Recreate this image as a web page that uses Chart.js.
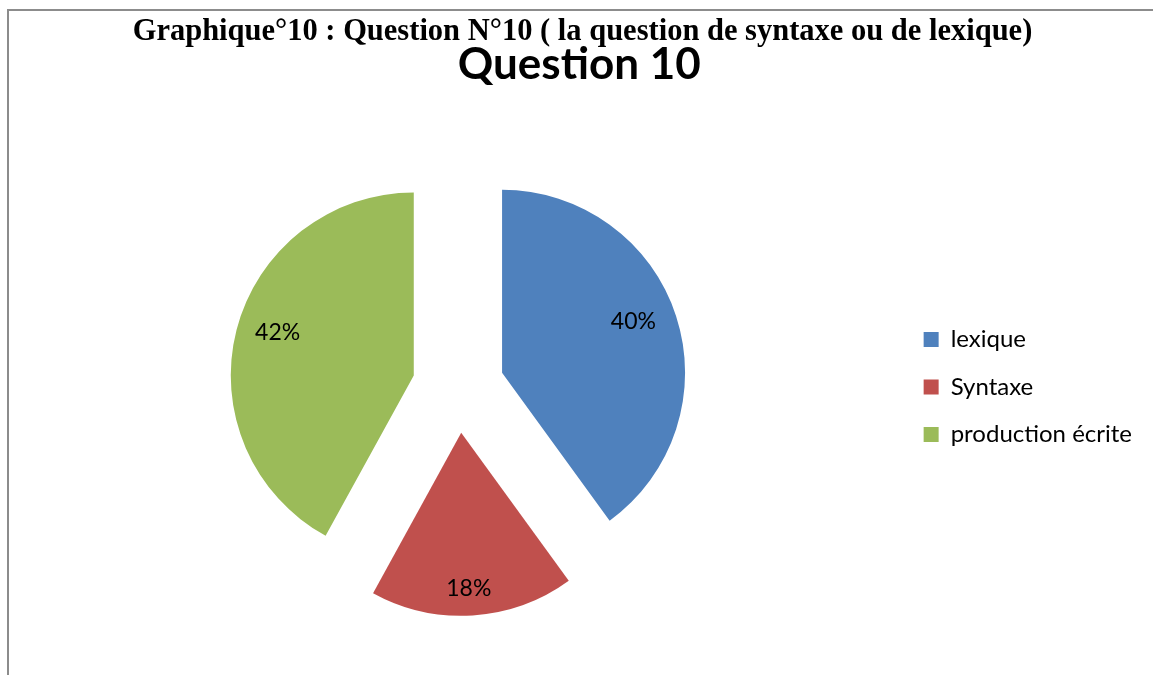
<!DOCTYPE html>
<html>
<head>
<meta charset="utf-8">
<script src="https://cdn.jsdelivr.net/npm/chart.js@4.4.1/dist/chart.umd.min.js"></script>
<style>
html, body { margin:0; padding:0; background:#fff; overflow:hidden; }
#wrap { position:relative; width:1153px; height:675px; }
#frame {
  position:absolute; left:7px; top:9px; right:-10px; bottom:-10px;
  border-top:2px solid #8c8c8c; border-left:2px solid #8c8c8c;
}
#caption {
  position:absolute; left:0; top:15px; width:1165px;
  text-align:center; font-family:"Liberation Serif", "Times New Roman", serif;
  font-weight:bold; font-size:30.5px; line-height:30px; color:#000;
  white-space:nowrap;
}
canvas { position:absolute; left:0; top:0; }
</style>
</head>
<body>
<div id="wrap">
<div id="frame"></div>
<canvas id="questionPie" width="1153" height="675"></canvas>
<div id="caption">Graphique°10 : Question N°10 ( la question de syntaxe ou de lexique)</div>
</div>
<script>
// data
const categories = ["lexique", "Syntaxe", "production écrite"];
const percentages = [40, 18, 42];
const sliceColours = ["#4F81BD", "#C0504D", "#9BBB59"];

// how far each slice is pulled out, and where its % sits
const EXPLODE = 46;
const labelFrac = [0.77, 0.85, 0.78];   // fraction of radius
const labelTurn = [-3.3, 0.8, 3.1];     // degrees off the bisector

function midOf(arc){
  return (arc.startAngle + arc.endAngle) / 2;
}

const explodePlugin = {
  id: "explode",
  beforeDatasetDraw(chart, args){
    const ctx = chart.ctx;
    args.meta.data.forEach(arc => {
      const mid = midOf(arc);
      ctx.save();
      ctx.translate(Math.cos(mid) * EXPLODE, Math.sin(mid) * EXPLODE);
      arc.draw(ctx);
      ctx.restore();
    });
    return false;
  },
  afterDatasetsDraw(chart){
    const ctx = chart.ctx;
    const arcs = chart.getDatasetMeta(0).data;
    ctx.save();
    ctx.font = "23px Lato";
    ctx.fillStyle = "#000";
    ctx.textAlign = "center";
    ctx.textBaseline = "middle";
    arcs.forEach((arc, i) => {
      const mid = midOf(arc);
      const ox = arc.x + Math.cos(mid) * EXPLODE;
      const oy = arc.y + Math.sin(mid) * EXPLODE;
      const a = mid + labelTurn[i] * Math.PI / 180;
      const r = arc.outerRadius * labelFrac[i];
      ctx.fillText(percentages[i] + "%", ox + Math.cos(a) * r, oy + Math.sin(a) * r);
    });
    ctx.restore();
  }
};

new Chart(document.getElementById("questionPie"), {
  type: "pie",
  data: {
    labels: categories,
    datasets: [{
      data: percentages,
      backgroundColor: sliceColours,
      borderWidth: 0,
      radius: 183
    }]
  },
  options: {
    responsive: false,
    animation: false,
    layout: {
      padding: { left: 16.5, right: 11, top: 0, bottom: 10 }
    },
    plugins: {
      title: {
        display: true,
        text: "Question 10",
        color: "#000",
        font: { family: "Lato", size: 44, weight: "bold" },
        padding: { top: 38, bottom: 18 }
      },
      legend: {
        position: "right",
        fullSize: false,
        labels: {
          color: "#000",
          font: { family: "Lato", size: 24 },
          boxWidth: 15,
          boxHeight: 15,
          padding: 23.5
        }
      },
      tooltip: { enabled: false }
    }
  },
  plugins: [explodePlugin]
});
</script>
</body>
</html>
